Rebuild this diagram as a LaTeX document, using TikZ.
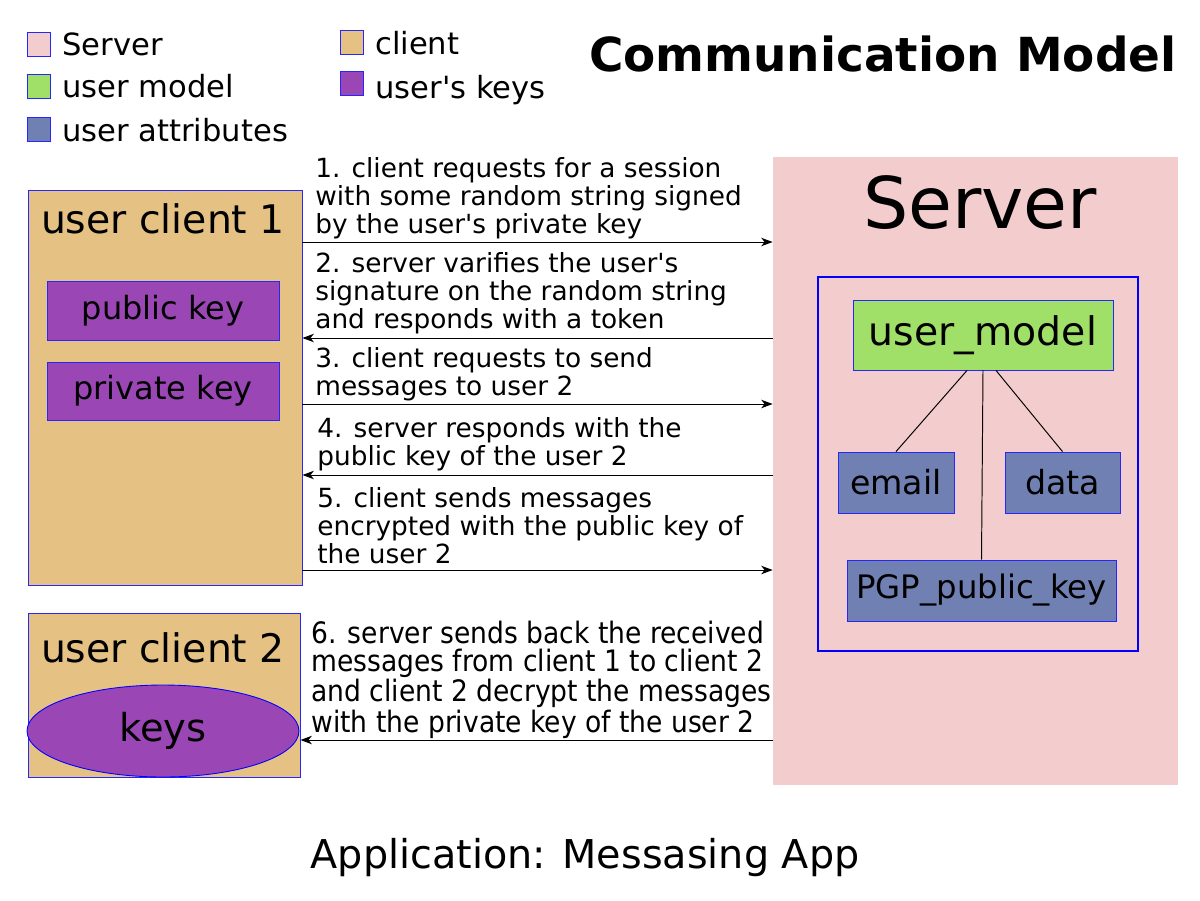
\documentclass[tikz,border=0pt]{standalone}
\usepackage{fontspec}
\setmainfont{DejaVu Sans}
\newfontfamily\condfont{DejaVu Sans Condensed}
\usetikzlibrary{arrows.meta,shapes.geometric,fit}

\definecolor{srvpink}{HTML}{F3CCCD}
\definecolor{umgreen}{HTML}{A0E068}
\definecolor{attrblue}{HTML}{7180B3}
\definecolor{keypurple}{HTML}{9A46B5}
\definecolor{clitan}{HTML}{E5C283}

\newcommand{\apos}{\textquotesingle}

\tikzset{
    frame/.style={draw=blue!85!white, line width=0.5pt},
    legsq/.style={frame, minimum width=0.46cm, minimum height=0.48cm},
    legtxt/.style={anchor=base west, font=\fontsize{17.4}{20}\selectfont},
    msg/.style={anchor=base west, align=left, font=\fontsize{15}{15.9}\selectfont},
    link/.style={-{Stealth[length=6.5pt,width=4.8pt,inset=1.9pt]}, line width=0.55pt},
    tie/.style={line width=0.55pt}
}

\begin{document}
\begin{tikzpicture}[x=0.02cm, y=-0.02cm, every node/.style={inner sep=0pt}]

    \useasboundingbox (0,0) rectangle (1200,900);

    % -- legenda --
    \node[legsq, fill=srvpink]   (lgsrv)  at (39,44)  {};
    \node[legsq, fill=umgreen]   (lgum)   at (39,86)  {};
    \node[legsq, fill=attrblue]  (lgattr) at (39,129) {};
    \node[legsq, fill=clitan]    (lgcli)  at (352,42) {};
    \node[legsq, fill=keypurple] (lgkey)  at (352,83) {};
    \node[legtxt] (lgsrvtxt)  at (62,55)  {Server};
    \node[legtxt] (lgumtxt)   at (62,97)  {user model};
    \node[legtxt] (lgattrtxt) at (62,141) {user attributes};
    \node[legtxt] (lgclitxt)  at (375,54) {client};
    \node[legtxt] (lgkeytxt)  at (375,98) {user\apos s keys};

    \node[anchor=base east, font=\fontsize{26.7}{30}\selectfont\bfseries] (title)
        at (1177,71) {Communication Model};

    % -- server --
    \node[fit={(773,157) (1178,785)}, fill=srvpink] (srv) {};
    \node[anchor=base, font=\fontsize{40.6}{46}\selectfont] (srvtxt) at (980,228) {Server};
    \node[fit={(818,277) (1138,651)}, draw=blue, line width=0.9pt] (usrbox) {};

    \node[frame, fill=umgreen, minimum width=5.2cm, minimum height=1.4cm,
          font=\fontsize{22.4}{26}\selectfont] (um) at (983,335) {user\_model};
    \node[frame, fill=attrblue, minimum width=2.32cm, minimum height=1.22cm,
          font=\fontsize{18.9}{22}\selectfont] (email) at (896,482.5) {email};
    \node[frame, fill=attrblue, minimum width=2.3cm, minimum height=1.22cm,
          font=\fontsize{18.9}{22}\selectfont] (data) at (1062.5,482.5) {data};
    \node[frame, fill=attrblue, minimum width=5.38cm, minimum height=1.22cm,
          font=\fontsize{18.4}{22}\selectfont] (pgp) at (981.5,590.5) {PGP\_public\_key};

    \draw[tie] ([xshift=-0.32cm]um.south) -- (email.north);
    \draw[tie] (um.south) -- (pgp.north);
    \draw[tie] ([xshift=0.26cm]um.south) -- (data.north);

    % -- client 1 --
    \node[fit={(28,190) (302,585)}, frame, fill=clitan] (cli1) {};
    \node[anchor=base, font=\fontsize{22.4}{26}\selectfont] (cli1txt) at (163,233) {user client 1};
    \node[frame, fill=keypurple, minimum width=4.64cm, minimum height=1.18cm,
          font=\fontsize{18.2}{22}\selectfont] (pubkey) at (163,310.5) {public key};
    \node[frame, fill=keypurple, minimum width=4.64cm, minimum height=1.16cm,
          font=\fontsize{18.2}{22}\selectfont] (privkey) at (163,391) {private key};

    % -- client 2 --
    \node[fit={(28,613) (300,777)}, frame, fill=clitan] (cli2) {};
    \node[anchor=base, font=\fontsize{22.4}{26}\selectfont] (cli2txt) at (163,662) {user client 2};
    \node[ellipse, draw=blue, line width=0.5pt, fill=keypurple, minimum width=5.44cm,
          minimum height=1.84cm, font=\fontsize{21.9}{26}\selectfont] (keys) at (163,731) {keys};

    % -- messaggi --
    \coordinate (y1) at (0,242);
    \coordinate (y2) at (0,338);
    \coordinate (y3) at (0,404);
    \coordinate (y4) at (0,475);
    \coordinate (y5) at (0,570);
    \coordinate (y6) at (0,740);

    \draw[link] (cli1.east |- y1) -- (srv.west |- y1);
    \draw[link] (srv.west |- y2) -- (cli1.east |- y2);
    \draw[link] (cli1.east |- y3) -- (srv.west |- y3);
    \draw[link] (srv.west |- y4) -- (cli1.east |- y4);
    \draw[link] (cli1.east |- y5) -- (srv.west |- y5);
    \draw[link] (srv.west |- y6) -- (cli2.east |- y6);

    % ancorati alla linea di base dell'ultima riga
    \node[msg] (msg1) at (315,233) {1. client requests for a session\\with some random string signed\\by the user\apos s private key};
    \node[msg] (msg2) at (315,328) {2. server varifies the user\apos s\\signature on the random string\\and responds with a token};
    \node[msg] (msg3) at (315,395) {3. client requests to send\\messages to user 2};
    \node[msg] (msg4) at (317,465) {4. server responds with the\\public key of the user 2};
    \node[msg] (msg5) at (317,563) {5. client sends messages\\encrypted with the public key of\\the user 2};
    \node[msg, font=\fontsize{16.8}{16.1}\selectfont\condfont] (msg6) at (311,732)
        {6. server sends back the received\\messages from client 1 to client 2\\and client 2 decrypt the messages\\with the private key of the user 2};

    \node[anchor=base, font=\fontsize{22.6}{26}\selectfont] (app) at (585,868) {Application: Messasing App};
\end{tikzpicture}
\end{document}
